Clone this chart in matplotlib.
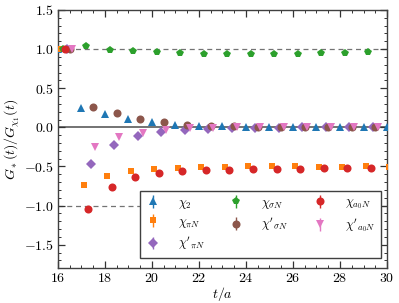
import numpy as np
import matplotlib
matplotlib.use("Agg")
import matplotlib.pyplot as plt
from matplotlib.ticker import MultipleLocator

# time slices (t/a)
t_long = np.arange(16, 31)
t_short = np.arange(16, 30)

chi2 = [1.0, 0.25, 0.173, 0.108, 0.065, 0.035, 0.022, 0.013, 0.009, 0.006,
        0.004, 0.003, 0.002, 0.001, 0.0]
chi_piN = [1.0, -0.733, -0.616, -0.56, -0.534, -0.517, -0.504, -0.504, -0.5,
           -0.5, -0.5, -0.504, -0.504, -0.5, -0.51]
chi_piN_p = [1.0, -0.466, -0.224, -0.107, -0.056, -0.03, -0.017, -0.009,
             -0.005, -0.003, -0.002, -0.001, -0.001, 0.0]
chi_sigN = [1.0, 1.035, 0.988, 0.971, 0.962, 0.949, 0.94, 0.94, 0.94, 0.94,
            0.94, 0.953, 0.953, 0.957]
chi_sigN_p = [1.0, 0.255, 0.177, 0.108, 0.065, 0.035, 0.022, 0.013, 0.009,
              0.006, 0.004, 0.003, 0.002, 0.001]
chi_a0N = [1.0, -1.047, -0.759, -0.633, -0.578, -0.552, -0.543, -0.539,
           -0.534, -0.534, -0.53, -0.526, -0.526, -0.517]
chi_a0N_p = [1.0, -0.25, -0.129, -0.073, -0.034, -0.013, -0.004, -0.002,
             -0.001, 0.0, 0.0, 0.0, 0.0, 0.0]

# error bars are below marker size in the picture
err_long = [0.0] + [0.005] * 14
err_short = [0.0] + [0.005] * 13

SERIES = [
    (r"$\chi_2$", t_long, chi2, err_long, 0.0, "^", "#1f77b4"),
    (r"$\chi_{\pi N}$", t_long, chi_piN, err_long, 0.1, "s", "#ff7f0e"),
    (r"$\chi'_{\pi N}$", t_short, chi_piN_p, err_short, 0.4, "D", "#9467bd"),
    (r"$\chi_{\sigma N}$", t_short, chi_sigN, err_short, 0.2, "p", "#2ca02c"),
    (r"$\chi'_{\sigma N}$", t_short, chi_sigN_p, err_short, 0.5, "o", "#8c564b"),
    (r"$\chi_{a_0 N}$", t_short, chi_a0N, err_short, 0.3, "o", "#d62728"),
    (r"$\chi'_{a_0 N}$", t_short, chi_a0N_p, err_short, 0.6, "v", "#e377c2"),
]

plt.rcParams.update({
    "font.family": "serif",
    "font.serif": ["cmr10", "DejaVu Serif"],
    "mathtext.fontset": "cm",
    "axes.formatter.use_mathtext": True,
    "axes.unicode_minus": True,
    "font.size": 10,
})

fig = plt.figure(figsize=(3.99, 3.03), dpi=100)
ax = fig.add_axes([0.145, 0.115, 0.825, 0.852])

ax.axhline(0.0, color="0.45", lw=1.4, zorder=1)
ax.axhline(1.0, color="0.45", lw=0.9, ls=(0, (4, 3)), zorder=1)
ax.axhline(-1.0, color="0.45", lw=0.9, ls=(0, (4, 3)), zorder=1)

for label, t, y, e, off, mk, col in SERIES:
    ms = 5.0 if mk in ("D", "s") else 5.8
    ax.errorbar(np.asarray(t) + off, y, yerr=e, fmt=mk, color=col, ms=ms,
                capsize=2, elinewidth=1, mew=0, label=label, zorder=3)

ax.set_xlim(16, 30)
ax.set_ylim(-1.8, 1.5)
ax.xaxis.set_major_locator(MultipleLocator(2))
ax.xaxis.set_minor_locator(MultipleLocator(0.5))
ax.yaxis.set_major_locator(MultipleLocator(0.5))
ax.yaxis.set_minor_locator(MultipleLocator(0.1))
ax.tick_params(which="both", direction="in", top=True, right=True,
               color="0.2", labelsize=10)
ax.tick_params(which="major", length=5, width=0.9, pad=3)
ax.tick_params(which="minor", length=2.5, width=0.7)
for s in ax.spines.values():
    s.set_color("0.25")
    s.set_linewidth(1.0)

ax.set_xlabel(r"$t/a$", fontsize=10, labelpad=0)
ax.set_ylabel(r"$G_*(t)/G_{\chi_1}(t)$", fontsize=10, labelpad=1)

leg = ax.legend(ncol=3, loc="lower left", bbox_to_anchor=(0.249, 0.04, 0.733, 0.236),
                mode="expand", borderaxespad=0, fontsize=9, frameon=True,
                fancybox=False, framealpha=1, edgecolor="0.25",
                handlelength=1.2, handletextpad=1.4, borderpad=0.45,
                labelspacing=0.4, columnspacing=1.0)
leg.get_frame().set_linewidth(1.0)
leg.set_zorder(5)

fig.savefig("out.png", dpi=100, facecolor="white")
